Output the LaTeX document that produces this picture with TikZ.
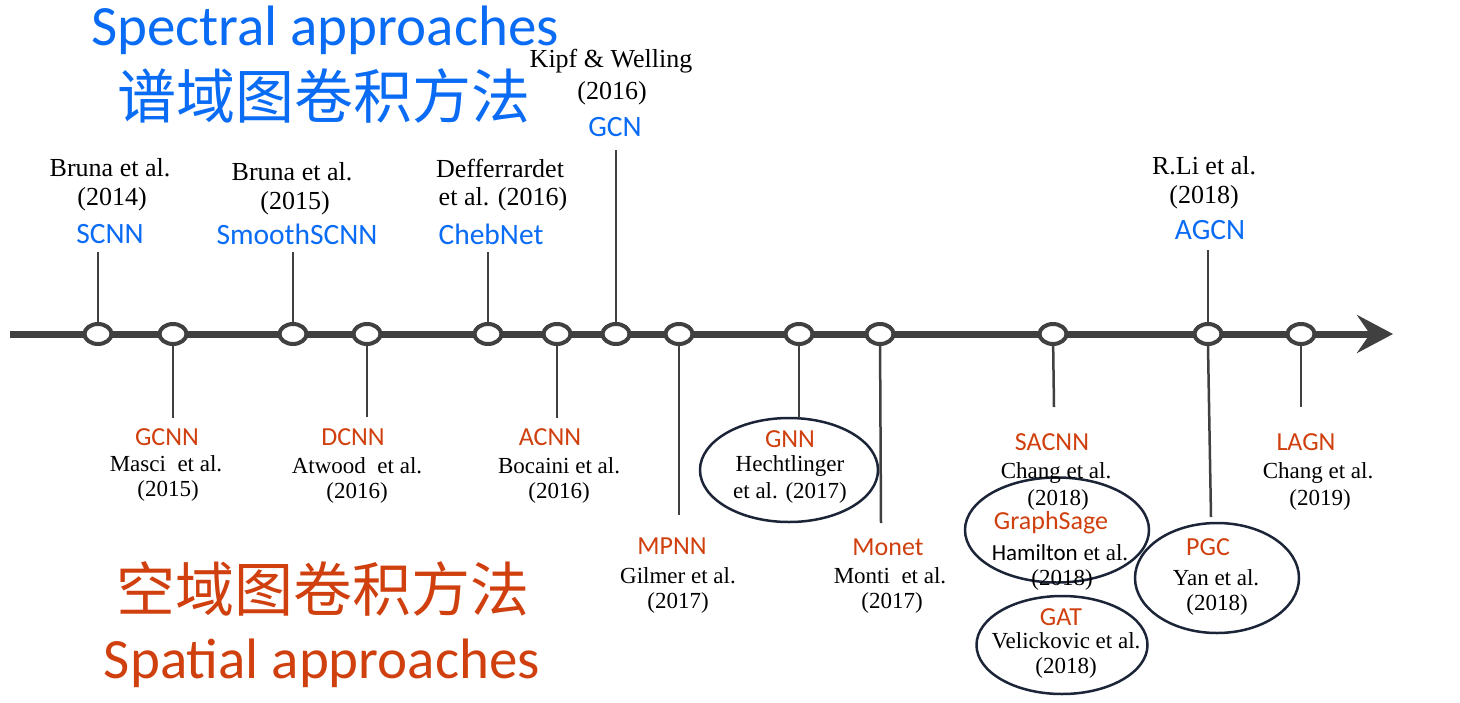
\documentclass[tikz,border=0pt]{standalone}
\usepackage{fontspec}
\usetikzlibrary{shapes.geometric,arrows.meta}
\newfontfamily\tnr{Liberation Serif}
\newfontfamily\calib{Carlito}
\newfontfamily\cjkf{Noto Sans CJK SC}
\definecolor{tl}{HTML}{404040}
\definecolor{sblue}{HTML}{0A6CF5}
\definecolor{sred}{HTML}{D0400E}
\definecolor{ering}{HTML}{1C2538}
\tikzset{
  x=1pt,y=-1pt,
  ref/.style={font=\tnr\fontsize{26}{30}\selectfont, inner sep=0pt},
  refb/.style={font=\tnr\fontsize{23}{27}\selectfont, inner sep=0pt},
  bl/.style={font=\calib\fontsize{29.5}{32}\selectfont, text=sblue, inner sep=0pt},
  rd/.style={font=\calib\fontsize{26}{30}\selectfont, text=sred, inner sep=0pt},
  dot/.style={ellipse, draw=tl, line width=4pt, fill=white, minimum width=27pt, minimum height=20pt, inner sep=0pt},
  stem/.style={draw=tl, line width=2.5pt},
  ring/.style={ellipse, draw=ering, line width=2.5pt, inner sep=0pt},
}
\begin{document}
\begin{tikzpicture}
\useasboundingbox (0,0) rectangle (1460,702);
\fill[white] (0,0) rectangle (1460,702);

% titles
\node[font=\calib\fontsize{57}{60}\selectfont, text=sblue, inner sep=0pt] (t1) at (325,30) {Spectral approaches};
\node[font=\cjkf\fontsize{59}{62}\selectfont, text=sblue, inner sep=0pt] (t2) at (324,96) {谱域图卷积方法};
\node[font=\cjkf\fontsize{59}{62}\selectfont, text=sred, inner sep=0pt] (t3) at (323,589) {空域图卷积方法};
\node[font=\calib\fontsize{57}{60}\selectfont, text=sred, inner sep=0pt] (t4) at (322,663) {Spatial approaches};

% timeline
\coordinate (ls) at (10,334);
\coordinate (le) at (1393,334);
\draw[tl, line width=7pt, -{Stealth[length=36pt,width=38pt,inset=13pt]}] (ls) -- (le);

% ring ellipses (behind stems/text)
\node[ring, minimum width=178pt, minimum height=104pt] (eGNN) at (789,470) {};
\node[ring, minimum width=184pt, minimum height=105pt] (eGS) at (1057,530) {};
\node[ring, minimum width=171pt, minimum height=98pt, fill=white] (eGAT) at (1062,645) {};
\node[ring, minimum width=164pt, minimum height=110pt] (ePGC) at (1217,578) {};

% stem endpoints
\coordinate (u1) at (98,252);
\coordinate (u3) at (293,252);
\coordinate (u5) at (488,252);
\coordinate (u7) at (616,150);
\coordinate (u12) at (1208,250);
\coordinate (d2) at (173,418);
\coordinate (d4) at (367,417);
\coordinate (d6) at (557,418);
\coordinate (d8) at (679,515);
\coordinate (d9) at (799,418);
\coordinate (d10) at (881,523);
\coordinate (d11) at (1054,407);
\coordinate (d12) at (1211,517);
\coordinate (d13) at (1301,407);

% dots
\path
 (98,334) node[dot] (c1) {}
 (173,334) node[dot] (c2) {}
 (293,334) node[dot] (c3) {}
 (367,334) node[dot] (c4) {}
 (488,334) node[dot] (c5) {}
 (557,334) node[dot] (c6) {}
 (616,334) node[dot] (c7) {}
 (679,334) node[dot] (c8) {}
 (799,334) node[dot] (c9) {}
 (880,334) node[dot] (c10) {}
 (1053,334) node[dot] (c11) {}
 (1208,334) node[dot] (c12) {}
 (1301,334) node[dot] (c13) {};

\draw[stem] (c1) -- (u1);
\draw[stem] (c3) -- (u3);
\draw[stem] (c5) -- (u5);
\draw[stem] (c7) -- (u7);
\draw[stem] (c12) -- (u12);
\draw[stem] (c2) -- (d2);
\draw[stem] (c4) -- (d4);
\draw[stem] (c6) -- (d6);
\draw[stem] (c8) -- (d8);
\draw[stem] (c9) -- (d9);
\draw[stem] (c10) -- (d10);
\draw[stem] (c11) -- (d11);
\draw[stem] (c12.south) -- (d12);
\draw[stem] (c13) -- (d13);

% top labels
\node[ref] (a1) at (110,168) {Bruna et al.};
\node[ref] (a2) at (112,199) {(2014)};
\node[bl] (a3) at (110,234) {SCNN};

\node[ref] (b1) at (292,172) {Bruna et al.};
\node[ref] (b2) at (295,203) {(2015)};
\node[bl] (b3) at (297,234) {SmoothSCNN};

\node[ref] (e1) at (500,168) {Defferrardet};
\node[ref] (e2) at (503,199) {et al. (2016)};
\node[bl] (e3) at (491,234) {ChebNet};

\node[ref] (k1) at (611,61) {Kipf \& Welling};
\node[ref] (k2) at (612,93) {(2016)};
\node[bl] (k3) at (615,127) {GCN};

\node[ref] (r1) at (1204,166) {R.Li et al.};
\node[ref] (r2) at (1204,197) {(2018)};
\node[bl] (r3) at (1210,230) {AGCN};

% bottom labels
\node[rd] (g1) at (167,437) {GCNN};
\node[refb] (g2) at (166,464) {Masci\ \ et al.};
\node[refb] (g3) at (168,491) {(2015)};

\node[rd] (h1) at (353,437) {DCNN};
\node[refb] (h2) at (357,466) {Atwood\ \ et al.};
\node[refb] (h3) at (357,493) {(2016)};

\node[rd] (i1) at (550,437) {ACNN};
\node[refb] (i2) at (559,466) {Bocaini et al.};
\node[refb] (i3) at (559,493) {(2016)};

\node[rd] (m1) at (672,546) {MPNN};
\node[refb] (m2) at (678,576) {Gilmer et al.};
\node[refb] (m3) at (678,603) {(2017)};

\node[rd] (n1) at (790,439) {GNN};
\node[refb] (n2) at (790,466) {Hechtlinger};
\node[refb] (n3) at (790,493) {et al. (2017)};

\node[rd] (o1) at (888,547) {Monet};
\node[refb] (o2) at (890,576) {Monti\ \ et al.};
\node[refb] (o3) at (892,603) {(2017)};

\node[rd] (s1) at (1052,442) {SACNN};
\node[refb] (s2) at (1056,473) {Chang et al.};
\node[refb] (s3) at (1058,500) {(2018)};

\node[rd] (p1) at (1051,523) {GraphSage};
\node[refb] (p2) at (1060,553) {{\calib\fontsize{23}{27}\selectfont Hamilton} et al.};
\node[refb] (p3) at (1062,580) {(2018)};

\node[rd] (q1) at (1061,617) {GAT};
\node[refb] (q2) at (1066,641) {Velickovic\ et al.};
\node[refb] (q3) at (1066,668) {(2018)};

\node[rd] (v1) at (1208,547) {PGC};
\node[refb] (v2) at (1216,578) {Yan et al.};
\node[refb] (v3) at (1217,605) {(2018)};

\node[rd] (w1) at (1306,442) {LAGN};
\node[refb] (w2) at (1318,473) {Chang et al.};
\node[refb] (w3) at (1320,500) {(2019)};
\end{tikzpicture}
\end{document}
